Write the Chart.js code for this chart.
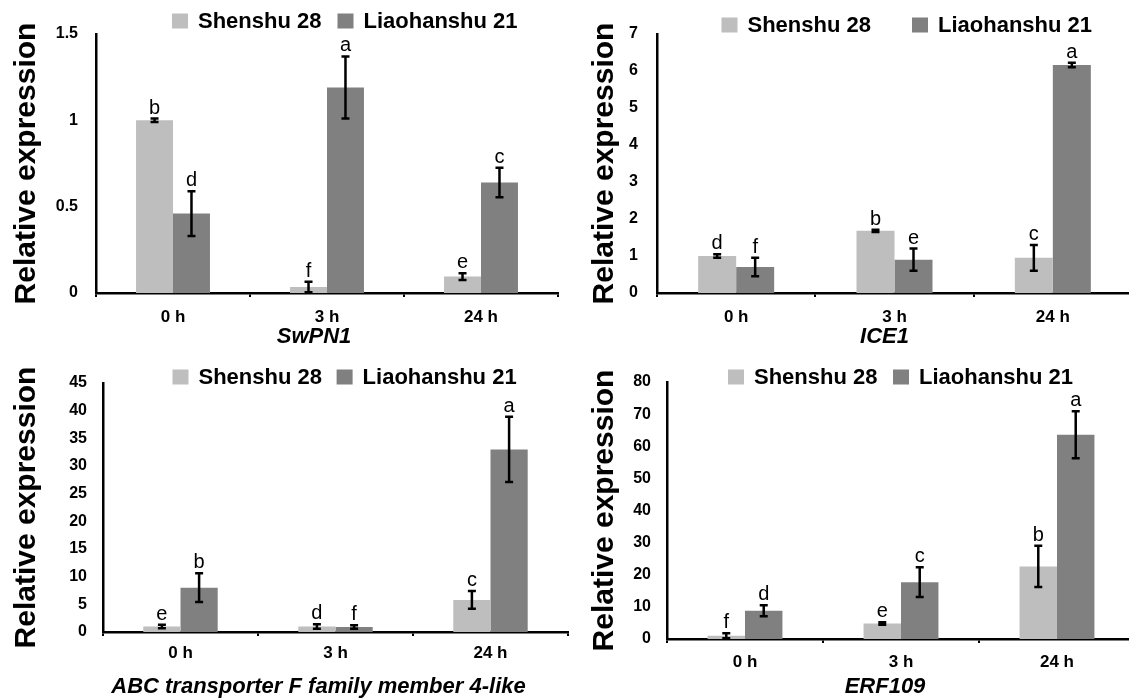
<!DOCTYPE html>
<html>
<head>
<meta charset="utf-8">
<script src="https://cdn.jsdelivr.net/npm/chart.js@4.4.0/dist/chart.umd.min.js"></script>
<style>
  body { margin: 0; background: #fff; width: 1129px; height: 699px; overflow: hidden; position: relative; }
  canvas { position: absolute; }
</style>
</head>
<body>
<canvas id="c1" width="575" height="350" style="left:0;top:0"></canvas>
<canvas id="c2" width="580" height="350" style="left:560px;top:0"></canvas>
<canvas id="c3" width="575" height="359" style="left:0;top:340px"></canvas>
<canvas id="c4" width="580" height="359" style="left:560px;top:340px"></canvas>
<script>
// Categorias y series comunes
const categories = ['0 h', '3 h', '24 h'];
const seriesNames = ['Shenshu 28', 'Liaohanshu 21'];

// SwPN1
const swpn1Shenshu = [1.0, 0.035, 0.095];
const swpn1ShenshuErr = [0.01, 0.03, 0.02];
const swpn1ShenshuLetters = ['b', 'f', 'e'];
const swpn1Liao = [0.46, 1.19, 0.64];
const swpn1LiaoErr = [0.13, 0.18, 0.085];
const swpn1LiaoLetters = ['d', 'a', 'c'];

// ICE1
const ice1Shenshu = [1.0, 1.68, 0.95];
const ice1ShenshuErr = [0.05, 0.03, 0.35];
const ice1ShenshuLetters = ['d', 'b', 'c'];
const ice1Liao = [0.7, 0.9, 6.16];
const ice1LiaoErr = [0.25, 0.3, 0.06];
const ice1LiaoLetters = ['f', 'e', 'a'];

// ABC transporter F family member 4-like
const abcShenshu = [1.0, 1.0, 5.8];
const abcShenshuErr = [0.3, 0.4, 1.6];
const abcShenshuLetters = ['e', 'd', 'c'];
const abcLiao = [8.0, 0.9, 33.0];
const abcLiaoErr = [2.6, 0.3, 5.9];
const abcLiaoLetters = ['b', 'f', 'a'];

// ERF109
const erfShenshu = [1.0, 4.8, 22.6];
const erfShenshuErr = [0.8, 0.4, 6.4];
const erfShenshuLetters = ['f', 'e', 'b'];
const erfLiao = [8.8, 17.7, 63.6];
const erfLiaoErr = [1.7, 4.6, 7.3];
const erfLiaoLetters = ['d', 'c', 'a'];

const FONT = '"Liberation Sans", Arial, Helvetica, sans-serif';
Chart.defaults.font.family = FONT;
Chart.defaults.color = '#000';

const lightGray = '#bebebe';
const darkGray = '#808080';

// Barras de error y letras de significancia
const errorBars = {
  id: 'errorBars',
  afterDatasetsDraw(chart) {
    const ctx = chart.ctx;
    const yScale = chart.scales.y;
    chart.data.datasets.forEach((ds, i) => {
      chart.getDatasetMeta(i).data.forEach((bar, j) => {
        const v = ds.data[j], e = ds.errors[j];
        const yTop = yScale.getPixelForValue(v + e);
        const yBot = yScale.getPixelForValue(Math.max(0, v - e));
        ctx.save();
        ctx.strokeStyle = '#000';
        ctx.lineWidth = 2.5;
        ctx.beginPath();
        ctx.moveTo(bar.x, yTop); ctx.lineTo(bar.x, yBot);
        ctx.moveTo(bar.x - 4, yTop); ctx.lineTo(bar.x + 4, yTop);
        ctx.moveTo(bar.x - 4, yBot); ctx.lineTo(bar.x + 4, yBot);
        ctx.stroke();
        ctx.fillStyle = '#000';
        ctx.font = '20px ' + FONT;
        ctx.textAlign = 'center';
        ctx.textBaseline = 'alphabetic';
        ctx.fillText(ds.letters[j], bar.x, yTop - 5);
        ctx.restore();
      });
    });
  }
};

// Leyenda superior
const topLegend = {
  id: 'topLegend',
  afterDraw(chart, args, opts) {
    const ctx = chart.ctx;
    ctx.save();
    ctx.font = 'bold 22px ' + FONT;
    ctx.textAlign = 'left';
    ctx.textBaseline = 'middle';
    chart.data.datasets.forEach((ds, i) => {
      const x = opts.xs[i];
      ctx.fillStyle = ds.backgroundColor;
      ctx.fillRect(x, opts.y - 7.5, 16, 15);
      ctx.fillStyle = '#000';
      ctx.fillText(ds.label, x + 26, opts.y + 1);
    });
    ctx.restore();
  }
};

// Nombre del gen debajo del eje x
const geneTitle = {
  id: 'geneTitle',
  afterDraw(chart, args, opts) {
    const ctx = chart.ctx;
    const a = chart.chartArea;
    ctx.save();
    ctx.font = 'italic bold 22px ' + FONT;
    ctx.textAlign = 'center';
    ctx.textBaseline = 'middle';
    ctx.fillStyle = '#000';
    ctx.fillText(opts.text, (a.left + a.right) / 2 + opts.dx, opts.y);
    ctx.restore();
  }
};

const makePanel = (id, d, lay) => {
  new Chart(document.getElementById(id), {
    type: 'bar',
    data: {
      labels: categories,
      datasets: [
        { label: seriesNames[0], data: d.s, errors: d.sErr, letters: d.sLet, backgroundColor: lightGray },
        { label: seriesNames[1], data: d.l, errors: d.lErr, letters: d.lLet, backgroundColor: darkGray }
      ]
    },
    options: {
      responsive: false,
      animation: false,
      devicePixelRatio: 1,
      layout: { padding: { left: 0, top: lay.top, right: lay.padRight, bottom: 0 } },
      datasets: { bar: { barPercentage: 1, categoryPercentage: 0.48, borderWidth: 0 } },
      plugins: {
        legend: { display: false },
        tooltip: { enabled: false },
        topLegend: lay.legend,
        geneTitle: { text: d.gene, dx: lay.geneDx, y: lay.geneY }
      },
      scales: {
        x: {
          grid: { display: true, drawOnChartArea: false, drawTicks: true, tickLength: 4, color: '#000', lineWidth: 2, offset: true },
          border: { display: true, color: '#000', width: 2.5 },
          ticks: { color: '#000', font: { size: 17, weight: 'bold' }, padding: lay.xTickPad },
          afterFit: (s) => { s.height = lay.xHeight; }
        },
        y: {
          min: 0,
          max: d.max,
          grid: { display: false, drawTicks: false },
          border: { display: true, color: '#000', width: 2.5 },
          ticks: {
            stepSize: d.step, color: '#000', font: { size: 16, weight: 'bold' }, padding: lay.yTickPad,
            callback: (v) => String(+v.toFixed(2))
          },
          title: { display: true, text: 'Relative expression', color: '#000', font: { size: 30, weight: 'bold' }, padding: { top: lay.yTitlePad, bottom: 0 } },
          afterFit: (s) => { s.width = lay.axisLeft; }
        }
      }
    },
    plugins: [errorBars, topLegend, geneTitle]
  });
};

makePanel('c1',
  { s: swpn1Shenshu, sErr: swpn1ShenshuErr, sLet: swpn1ShenshuLetters, l: swpn1Liao, lErr: swpn1LiaoErr, lLet: swpn1LiaoLetters, max: 1.5, step: 0.5, gene: 'SwPN1' },
  { axisLeft: 96, top: 34, padRight: 17, xHeight: 57, yTitlePad: 9, yTickPad: 18, xTickPad: 10, legend: { xs: [172, 337.5], y: 21 }, geneDx: -13, geneY: 337 });

makePanel('c2',
  { s: ice1Shenshu, sErr: ice1ShenshuErr, sLet: ice1ShenshuLetters, l: ice1Liao, lErr: ice1LiaoErr, lLet: ice1LiaoLetters, max: 7, step: 1, gene: 'ICE1' },
  { axisLeft: 97, top: 34, padRight: 8, xHeight: 57, yTitlePad: 27, yTickPad: 19, xTickPad: 10, legend: { xs: [161.5, 352], y: 25 }, geneDx: -10, geneY: 337 });

makePanel('c3',
  { s: abcShenshu, sErr: abcShenshuErr, sLet: abcShenshuLetters, l: abcLiao, lErr: abcLiaoErr, lLet: abcLiaoLetters, max: 45, step: 5, gene: 'ABC transporter F family member 4-like' },
  { axisLeft: 103, top: 43, padRight: 7, xHeight: 67, yTitlePad: 9, yTickPad: 16, xTickPad: 7, legend: { xs: [172.5, 336.6], y: 37 }, geneDx: -17, geneY: 347 });

makePanel('c4',
  { s: erfShenshu, sErr: erfShenshuErr, sLet: erfShenshuLetters, l: erfLiao, lErr: erfLiaoErr, lLet: erfLiaoLetters, max: 80, step: 10, gene: 'ERF109' },
  { axisLeft: 107, top: 42, padRight: 5, xHeight: 60, yTitlePad: 27, yTickPad: 16, xTickPad: 9, legend: { xs: [168, 333], y: 37 }, geneDx: -16, geneY: 347 });
</script>
</body>
</html>
